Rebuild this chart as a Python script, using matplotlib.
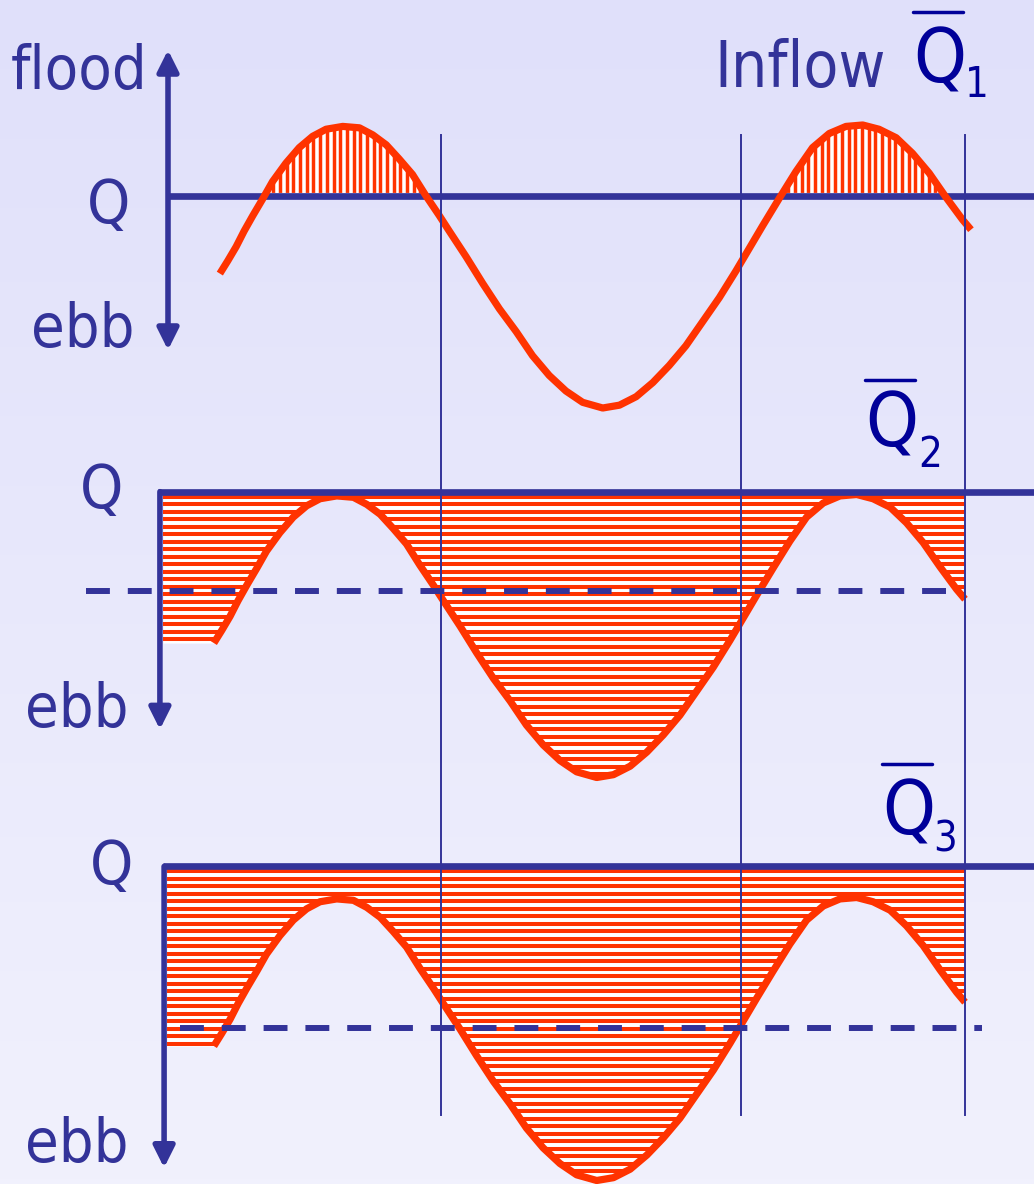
import numpy as np
import matplotlib.pyplot as plt
from matplotlib.path import Path

W, H = 1034, 1184

# Tidal discharge through the section (flood positive), hours after start
hours = [0.02, 0.21, 0.41, 0.60, 0.81, 1.05, 1.28, 1.60, 1.92, 2.24, 2.56,
         2.96, 3.36, 3.68, 4.00, 4.31, 4.63, 4.95, 5.27, 5.51, 5.91, 6.31,
         6.71, 7.11, 7.50, 7.90, 8.30, 8.70, 9.18, 9.58, 9.98, 10.38, 10.77,
         11.17, 11.57, 11.97, 12.37, 12.69, 13.01, 13.40, 13.80, 14.20,
         14.60, 15.00, 15.40, 15.79, 16.20, 16.59, 16.99, 17.39, 17.79, 17.99]
flow = [-0.05, 0.04, 0.14, 0.25, 0.36, 0.48, 0.60, 0.73, 0.84, 0.92, 0.97,
        0.99, 0.98, 0.93, 0.86, 0.76, 0.65, 0.50, 0.36, 0.25, 0.07, -0.12,
        -0.30, -0.46, -0.63, -0.77, -0.88, -0.96, -1.00, -0.98, -0.92, -0.82,
        -0.70, -0.56, -0.39, -0.22, -0.03, 0.13, 0.29, 0.48, 0.67, 0.84,
        0.94, 0.99, 1.00, 0.97, 0.91, 0.80, 0.66, 0.49, 0.33, 0.26]

# river inflow line and dashed reference for the three cases
inflow_level = [0.50, 1.02, 1.22]
reference_level = [None, 0.32, 0.08]
reference_span = [None, (-3.04, 17.99), (-0.79, 18.40)]
slack_hours = [5.45, 12.63, 17.99]
subscripts = ["1", "2", "3"]

# layout (pixels)
PX_PER_HOUR = 41.8
PX_PER_UNIT = 141.5
panel_zero_px = [266.5, 636.0, 1039.0]
panel_start_px = [219.0, 213.0, 213.0]
axis_hour = [-1.22, -1.27, -1.17]
axis_bottom = [-0.59, -0.66, -0.91]
line_start = [-1.27, -1.32, -1.20]
fill_start = [None, -1.196, -1.10]

BLUE = "#333399"
NAVY = "#000099"
RED = "#ff3300"

fig = plt.figure(figsize=(W / 100, H / 100), dpi=100)

# background gradient
ax_bg = fig.add_axes([0, 0, 1, 1])
ax_bg.axis("off")
grad = np.linspace(0, 1, 256)[:, None, None]
top = np.array([224, 224, 250]) / 255
bottom = np.array([241, 241, 253]) / 255
ax_bg.imshow(top + (bottom - top) * grad, extent=[0, 1, 0, 1], aspect="auto",
             transform=ax_bg.transAxes)
ax_bg.set_xlim(0, 1)
ax_bg.set_ylim(0, 1)

t = np.array(hours)
q = np.array(flow)
panels = []
for i in range(3):
    ax = fig.add_axes([0, 0, 1, 1])
    x0, y0 = panel_start_px[i], panel_zero_px[i]
    ax.set_xlim(-x0 / PX_PER_HOUR, (W - x0) / PX_PER_HOUR)
    ax.set_ylim((y0 - H) / PX_PER_UNIT, y0 / PX_PER_UNIT)
    ax.axis("off")
    panels.append(ax)
    level = inflow_level[i]
    right = ax.get_xlim()[1]

    if i == 0:
        # flood volume above the inflow line: vertical hatching
        poly = ax.fill_between(t, q, level + 0.02, where=q > level + 0.02,
                               interpolate=True, color="white", lw=0, zorder=2)
        path = Path.make_compound_path(*poly.get_paths())
        st = ax.vlines(np.arange(t[0], t[-1], 0.16), level - 0.05, 1.1,
                       color=RED, lw=2.5, zorder=3)
        st.set_clip_path(path, ax.transData)
    else:
        # everything below the inflow line: horizontal hatching
        tx = np.concatenate([[fill_start[i]], t, [slack_hours[-1]]])
        qy = np.concatenate([[q[0]], q, [q[-1]]])
        poly = ax.fill_between(tx, qy, level, color="white", lw=0, zorder=2)
        path = Path.make_compound_path(*poly.get_paths())
        st = ax.hlines(np.arange(level - 0.035, q.min() - 0.05, -0.053),
                       tx[0], tx[-1], color=RED, lw=2.9, zorder=3)
        st.set_clip_path(path, ax.transData)

        lo, hi = reference_span[i]
        ax.hlines(reference_level[i], lo, hi, color=BLUE, lw=4.3,
                  linestyles=(0, (4.0, 3.0)), zorder=5)

    ax.plot(t, q, color=RED, lw=5.2, solid_capstyle="butt",
            solid_joinstyle="round", zorder=4)
    ax.hlines(level, line_start[i], right, color=BLUE, lw=4.8,
              zorder=6 if i else 3.5)

    # discharge axis
    style = "<|-|>" if i == 0 else "-|>"
    top_q = 1.53 if i == 0 else level
    ax.annotate("", xy=(axis_hour[i], axis_bottom[i]),
                xytext=(axis_hour[i], top_q),
                arrowprops=dict(arrowstyle=style + ",head_length=0.4,head_width=0.2",
                                color=BLUE, lw=4.0, shrinkA=0, shrinkB=0,
                                mutation_scale=32),
                zorder=6)

# slack-water verticals through all three cases
for h in slack_hours:
    panels[2].axvline(h, ymin=(H - 1115) / H, ymax=(H - 135) / H,
                      color=BLUE, lw=1.4, zorder=7)

# labels in pixel coordinates
ax_t = fig.add_axes([0, 0, 1, 1])
ax_t.set_xlim(0, W)
ax_t.set_ylim(H, 0)
ax_t.axis("off")
lab = dict(color=BLUE, fontsize=44, family="DejaVu Sans",
           fontstretch="condensed", va="baseline")
ax_t.text(148, 89, "flood", ha="right", **lab)
ax_t.text(714, 87, "Inflow", ha="left", color=BLUE, fontsize=46,
          family="DejaVu Sans", fontstretch="condensed", va="baseline")
for (x, y, s) in [(130, 223, "Q"), (123, 508, "Q"), (133, 884, "Q"),
                  (135, 347, "ebb"), (128, 727, "ebb"), (128, 1162, "ebb")]:
    ax_t.text(x, y, s, ha="right", **lab)

# mean inflow symbols
qbar = [(913, 83, 965, 97, 12), (865, 447, 918, 467, 380), (882, 835, 933, 851, 764)]
for (qx, qy, sx, sy, oy), sub in zip(qbar, subscripts):
    ax_t.text(qx, qy, "Q", color=NAVY, fontsize=54, family="DejaVu Sans",
              fontstretch="condensed", ha="left", va="baseline")
    ax_t.text(sx, sy, sub, color=NAVY, fontsize=30, family="DejaVu Sans",
              fontstretch="condensed", ha="left", va="baseline")
    ax_t.plot([qx, qx + 50], [oy, oy], color=NAVY, lw=2.5,
              solid_capstyle="round")

fig.savefig("out.png", dpi=100)
